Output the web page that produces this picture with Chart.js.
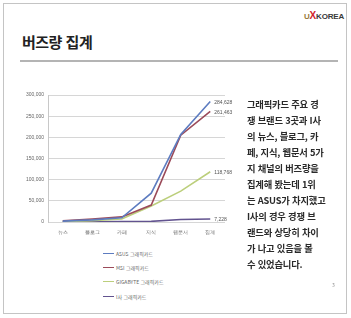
<!DOCTYPE html>
<html lang="ko">
<head>
<meta charset="utf-8">
<script src="https://cdn.jsdelivr.net/npm/chart.js@4/dist/chart.umd.min.js"></script>
<style>
    html, body { margin: 0; padding: 0; background: #fff; }
    body { width: 351px; height: 318px; position: relative; overflow: hidden; font-family: "Noto Sans CJK KR", "Noto Sans", sans-serif; }
    .slide { position: absolute; left: 3px; top: 3px; width: 344px; height: 311px; border: 1px solid #c4c4c4; box-sizing: border-box; }
    .logo { position: absolute; left: 304px; top: 10px; font: 700 8px "Liberation Sans", sans-serif; color: #3a3a3a; letter-spacing: -0.2px; }
    .logo .u { color: #9a7a3a; }
    .logo .x { color: #d2242c; font-size: 10px; }
    .title { position: absolute; left: 22px; top: 31px; font-size: 15px; font-weight: 700; color: #222; letter-spacing: -0.5px; }
    .rule { position: absolute; left: 20px; top: 60px; width: 318px; height: 2px; background: #b4b4b4; }
    #chartBox { position: absolute; left: 18px; top: 88px; width: 240px; height: 154px; }
    #legend { position: absolute; left: 103px; top: 246px; font-size: 5px; color: #666; }
    #legend div { height: 14.3px; display: flex; align-items: center; white-space: nowrap; }
    #legend span.mk { display: inline-block; width: 11px; height: 1px; margin-right: 2px; }
    .text { position: absolute; left: 247px; top: 96px; font-size: 9.3px; font-weight: 700; line-height: 16px; color: #2a2a2a; white-space: nowrap; letter-spacing: -0.2px; }
    .page { position: absolute; left: 332px; top: 281px; font-size: 5px; color: #888; }
</style>
</head>
<body>
<div class="slide"></div>
<div class="logo"><span class="u">U</span><span class="x">X</span>KOREA</div>
<div class="title">버즈량 집계</div>
<div class="rule"></div>
<div id="chartBox"><canvas id="buzzChart"></canvas></div>
<div id="legend"></div>
<div class="text">그래픽카드 주요 경<br>쟁 브랜드 3곳과 I사<br>의 뉴스, 블로그, 카<br>페, 지식, 웹문서 5가<br>지 채널의 버즈량을<br>집계해 봤는데 1위<br>는 ASUS가 차지했고<br>I사의 경우 경쟁 브<br>랜드와 상당히 차이<br>가 나고 있음을 볼<br>수 있었습니다.</div>
<div class="page">3</div>
<script>
const channels = ['뉴스', '블로그', '카페', '지식', '웹문서', '집계'];
const asusValues = [2000, 5000, 10000, 68000, 207000, 284628];
const msiValues = [3000, 7000, 12000, 40000, 205000, 261463];
const gigabyteValues = [1000, 3000, 7000, 38000, 73000, 118768];
const isaValues = [500, 500, 800, 1500, 6000, 7228];
const seriesNames = ['ASUS 그래픽카드', 'MSI 그래픽카드', 'GIGABYTE 그래픽카드', 'I사 그래픽카드'];
const yTicks = [0, 50000, 100000, 150000, 200000, 250000, 300000];

const colors = ['#5d7cc0', '#9b4b5a', '#bccf7c', '#62538f'];

function fmt(v) {
    return v.toLocaleString('en-US');
}

// end-of-line value labels
const endLabels = {
    id: 'endLabels',
    afterDatasetsDraw(chart) {
        const ctx = chart.ctx;
        ctx.save();
        ctx.font = '5px "Liberation Sans", sans-serif';
        ctx.fillStyle = '#555';
        ctx.textBaseline = 'middle';
        chart.data.datasets.forEach((ds, i) => {
            const pts = chart.getDatasetMeta(i).data;
            const last = pts[pts.length - 1];
            ctx.fillText(fmt(ds.data[ds.data.length - 1]), last.x + 4, last.y + 1);
        });
        ctx.restore();
    },
};

const chart = new Chart(document.getElementById('buzzChart'), {
    type: 'line',
    data: {
        labels: channels,
        datasets: [asusValues, msiValues, gigabyteValues, isaValues].map((d, i) => ({
            label: seriesNames[i],
            data: d,
            borderColor: colors[i],
            borderWidth: 1.6,
            pointRadius: 0,
            tension: 0,
            fill: false,
        })),
    },
    options: {
        responsive: true,
        maintainAspectRatio: false,
        animation: false,
        layout: { padding: { top: 4, right: 33, left: 0, bottom: 0 } },
        plugins: {
            legend: { display: false },
            tooltip: { enabled: false },
        },
        scales: {
            x: {
                offset: true,
                grid: { display: false, drawTicks: false },
                border: { display: false },
                ticks: { font: { size: 5 }, color: '#666', padding: 8, maxRotation: 0 },
                afterFit: s => { s.height = 20; },
            },
            y: {
                min: 0,
                max: 300000,
                afterBuildTicks: s => { s.ticks = yTicks.map(v => ({ value: v })); },
                grid: { color: '#d6d6d6', lineWidth: 1, drawTicks: false },
                border: { display: true, color: '#c8c8c8' },
                ticks: { font: { size: 5 }, color: '#666', padding: 4, callback: v => fmt(v) },
                afterFit: s => { s.width = 30; },
            },
        },
    },
    plugins: [endLabels],
});

// legend, stacked like the source slide
const legendBox = document.getElementById('legend');
chart.data.datasets.forEach(ds => {
    const row = document.createElement('div');
    const mk = document.createElement('span');
    mk.className = 'mk';
    mk.style.background = ds.borderColor;
    row.appendChild(mk);
    row.appendChild(document.createTextNode(ds.label));
    legendBox.appendChild(row);
});
</script>
</body>
</html>
